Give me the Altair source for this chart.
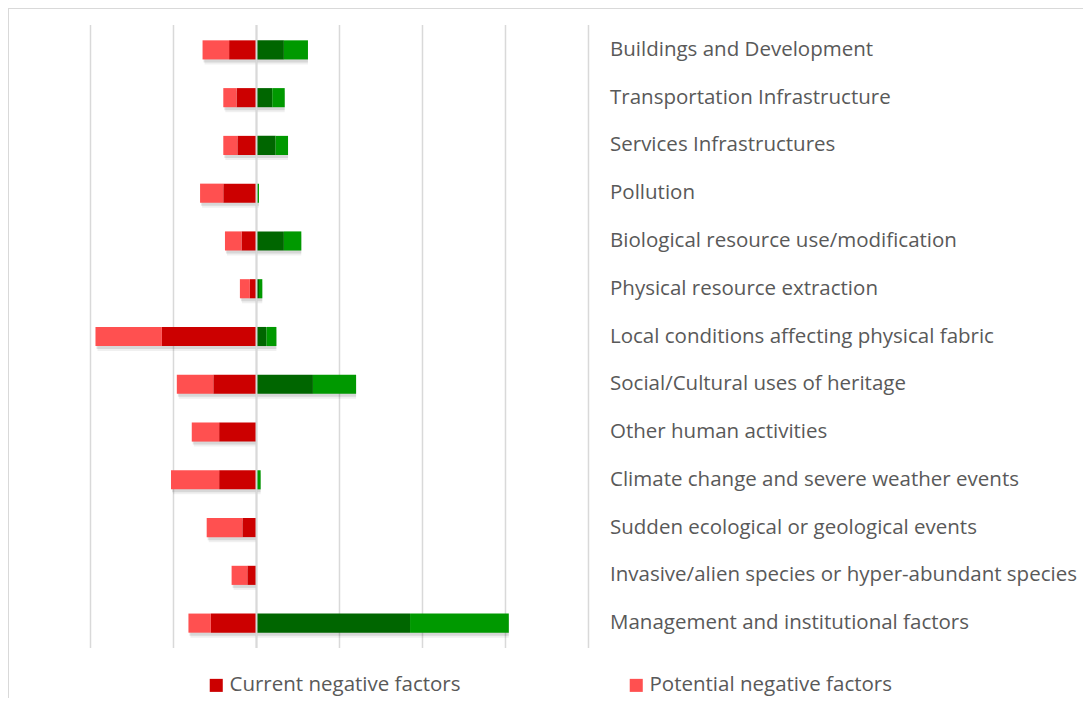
import altair as alt
import pandas as pd

categories = [
    "Buildings and Development",
    "Transportation Infrastructure",
    "Services Infrastructures",
    "Pollution",
    "Biological resource use/modification",
    "Physical resource extraction",
    "Local conditions affecting physical fabric",
    "Social/Cultural uses of heritage",
    "Other human activities",
    "Climate change and severe weather events",
    "Sudden ecological or geological events",
    "Invasive/alien species or hyper-abundant species",
    "Management and institutional factors",
]
current_negative = [3.3, 2.4, 2.3, 4.0, 1.8, 0.8, 11.4, 5.2, 4.5, 4.5, 1.7, 1.1, 5.5]
potential_negative = [3.2, 1.6, 1.7, 2.8, 2.0, 1.2, 8.0, 4.4, 3.3, 5.8, 4.3, 1.9, 2.7]
current_positive = [3.3, 1.9, 2.3, 0.1, 3.3, 0.3, 1.2, 6.8, 0.0, 0.0, 0.0, 0.0, 18.5]
potential_positive = [2.9, 1.5, 1.5, 0.2, 2.1, 0.4, 1.2, 5.2, 0.0, 0.5, 0.0, 0.0, 11.9]
series = ["Current negative factors", "Potential negative factors",
          "Current positive factors", "Potential positive factors"]
series_colors = ["#CC0000", "#FF5050", "#006600", "#009900"]
grid_values = [-20, -10, 0, 10, 20, 30, 40]

rows = []
for i, c in enumerate(categories):
    vals = [-current_negative[i], -potential_negative[i], current_positive[i], potential_positive[i]]
    for j, s in enumerate(series):
        rows.append({"cat": c, "series": s, "value": vals[j], "order": j % 2})
df = pd.DataFrame(rows)

span_df = pd.DataFrame({
    "cat": categories,
    "lo": [-(a + b) for a, b in zip(current_negative, potential_negative)],
    "hi": [a + b for a, b in zip(current_positive, potential_positive)],
})
grid_df = pd.DataFrame({"g": grid_values})
zero_df = pd.DataFrame({"g": [0]})

W, H = 1075, 690
FS = 20.5
xscale = alt.Scale(domain=[-29.94, 99.58], nice=False, zero=False)
yscale = alt.Scale(domain=categories, range=[18, 639], paddingInner=0.6, paddingOuter=0.3)

grid = alt.Chart(grid_df).mark_rule(color="#D9D9D9", strokeWidth=1.5).encode(
    x=alt.X("g:Q", scale=xscale, axis=None),
    y=alt.value(17), y2=alt.value(640),
)

shadow1 = alt.Chart(span_df).mark_bar(color="#000000", opacity=0.10, xOffset=1, yOffset=3).encode(
    x=alt.X("lo:Q", scale=xscale, axis=None), x2="hi:Q",
    y=alt.Y("cat:N", scale=yscale, axis=None, sort=categories),
)
shadow2 = alt.Chart(span_df).mark_bar(color="#000000", opacity=0.06, xOffset=2, yOffset=5).encode(
    x=alt.X("lo:Q", scale=xscale, axis=None), x2="hi:Q",
    y=alt.Y("cat:N", scale=yscale, axis=None, sort=categories),
)

bars = alt.Chart(df).mark_bar().encode(
    x=alt.X("value:Q", stack="zero", scale=xscale, axis=None),
    y=alt.Y("cat:N", scale=yscale, axis=None, sort=categories),
    color=alt.Color(
        "series:N",
        scale=alt.Scale(domain=series, range=series_colors),
        legend=alt.Legend(
            values=series[:2], title=None, orient="none", direction="horizontal",
            legendX=198, legendY=667, symbolType="square", symbolSize=170,
            symbolStrokeWidth=0, labelFont="Open Sans", labelFontSize=FS,
            labelColor="#595959", columnPadding=165, labelOffset=3, labelLimit=400,
        ),
    ),
    order=alt.Order("order:Q"),
)

zero = alt.Chart(zero_df).mark_rule(color="#D9D9D9", strokeWidth=2).encode(
    x=alt.X("g:Q", scale=xscale, axis=None),
    y=alt.value(17), y2=alt.value(640),
)

labels = alt.Chart(pd.DataFrame({"cat": categories})).mark_text(
    align="left", baseline="middle", font="Open Sans", fontSize=FS, color="#595959"
).encode(
    x=alt.value(602),
    y=alt.Y("cat:N", scale=yscale, axis=None, sort=categories, bandPosition=0.5),
    text="cat:N",
)

frame = alt.Chart(pd.DataFrame({"a": [0]})).mark_rule(color="#D9D9D9", strokeWidth=1).encode(
    x=alt.value(0.5), x2=alt.value(0.5), y=alt.value(0), y2=alt.value(H),
)
frame_top = alt.Chart(pd.DataFrame({"a": [0]})).mark_rule(color="#D9D9D9", strokeWidth=1).encode(
    x=alt.value(0), x2=alt.value(W), y=alt.value(0.5), y2=alt.value(0.5),
)

chart = alt.layer(grid, shadow2, shadow1, bars, zero, labels, frame, frame_top).properties(
    width=W, height=H, padding=0, autosize=alt.AutoSizeParams(type="none"),
).configure_view(stroke=None)

chart.save("out.html", embed_options={"renderer": "svg", "actions": False})
